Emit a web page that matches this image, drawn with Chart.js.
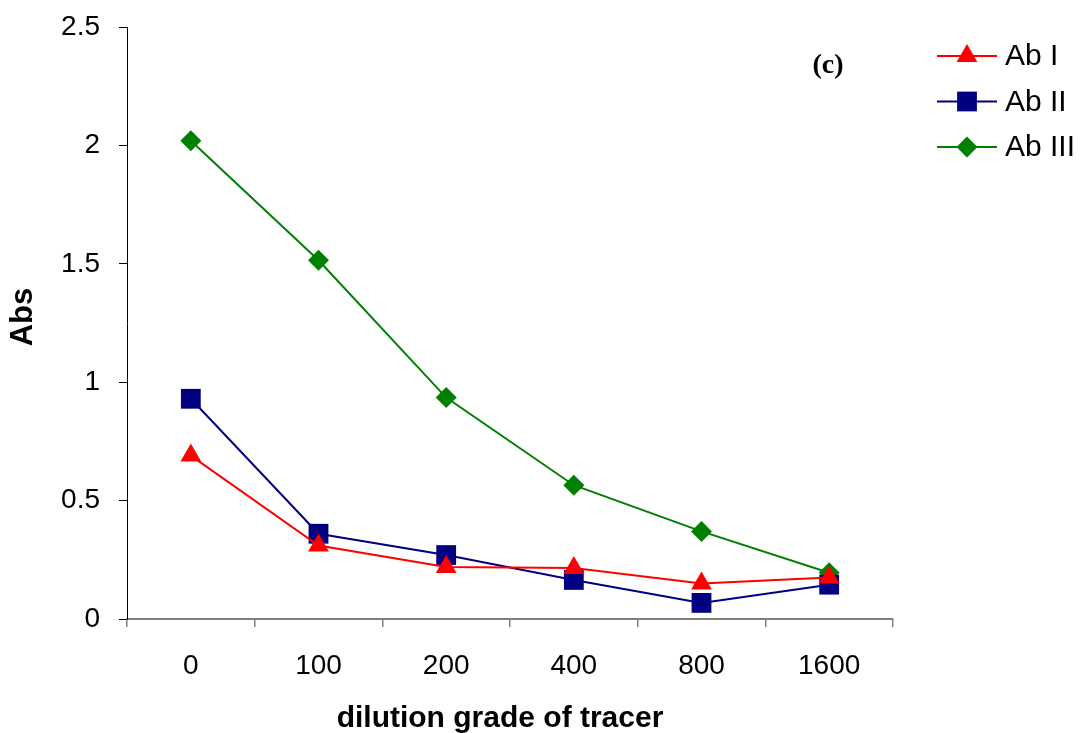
<!DOCTYPE html>
<html>
<head>
<meta charset="utf-8">
<script src="https://cdn.jsdelivr.net/npm/chart.js@4/dist/chart.umd.min.js"></script>
<style>
  html, body { margin: 0; padding: 0; background: #fff; }
  #wrap { width: 1080px; height: 733px; }
</style>
</head>
<body>
<div id="wrap"><canvas id="absChart" width="1080" height="733"></canvas></div>
<script>
// dilution grades on the x axis
var categories = ['0', '100', '200', '400', '800', '1600'];
// absorbance
var abI = [0.69, 0.31, 0.22, 0.215, 0.15, 0.175];
var abII = [0.93, 0.36, 0.27, 0.165, 0.068, 0.145];
var abIII = [2.02, 1.515, 0.935, 0.565, 0.37, 0.195];
var seriesNames = ['Ab I', 'Ab II', 'Ab III'];
var yTicks = [0, 0.5, 1, 1.5, 2, 2.5];

var colors = ['#FF0000', '#000080', '#008000'];
var styles = ['triangle', 'rect', 'rectRot'];
var radii = [12, 14, 10.5];
var sans = 'Arial, "Liberation Sans", sans-serif';

function drawMarker(ctx, style, x, y, r, color) {
    ctx.save();
    ctx.fillStyle = color;
    ctx.beginPath();
    if (style === 'triangle') {
        ctx.moveTo(x, y - r);
        ctx.lineTo(x + r * Math.sin(2 * Math.PI / 3), y - r * Math.cos(2 * Math.PI / 3));
        ctx.lineTo(x - r * Math.sin(2 * Math.PI / 3), y - r * Math.cos(2 * Math.PI / 3));
    } else if (style === 'rect') {
        var s = r * Math.SQRT1_2;
        ctx.rect(x - s, y - s, 2 * s, 2 * s);
    } else {
        ctx.moveTo(x, y - r);
        ctx.lineTo(x + r, y);
        ctx.lineTo(x, y + r);
        ctx.lineTo(x - r, y);
    }
    ctx.closePath();
    ctx.fill();
    ctx.restore();
}

// axis titles, legend at the right and the "(c)" panel tag
var extras = {
    id: 'extras',
    afterDraw: function(chart) {
        var ctx = chart.ctx;
        ctx.save();
        ctx.fillStyle = '#000';
        ctx.textAlign = 'center';
        ctx.textBaseline = 'middle';

        ctx.font = 'bold 30px ' + sans;
        ctx.fillText('dilution grade of tracer', 500, 719);
        ctx.save();
        ctx.translate(23, 317);
        ctx.rotate(-Math.PI / 2);
        ctx.font = 'bold 31px ' + sans;
        ctx.fillText('Abs', 0, 0);
        ctx.restore();

        ctx.font = 'bold 28px "Times New Roman", "Liberation Serif", serif';
        ctx.fillText('(c)', 828, 66);

        ctx.font = '30px ' + sans;
        ctx.textAlign = 'left';
        for (var i = 0; i < seriesNames.length; i++) {
            var y = 56 + i * 45.5;
            ctx.strokeStyle = colors[i];
            ctx.lineWidth = 2;
            ctx.beginPath();
            ctx.moveTo(937, y);
            ctx.lineTo(997, y);
            ctx.stroke();
            drawMarker(ctx, styles[i], 967, y, radii[i], colors[i]);
            ctx.fillStyle = '#000';
            ctx.fillText(seriesNames[i], 1005, y + 1);
        }
        ctx.restore();
    }
};

var allSeries = [abI, abII, abIII];
var datasets = allSeries.map(function(vals, i) {
    return {
        label: seriesNames[i],
        data: vals,
        borderColor: colors[i],
        backgroundColor: colors[i],
        borderWidth: 2,
        pointStyle: styles[i],
        pointRadius: radii[i],
        pointHoverRadius: radii[i],
        pointBorderWidth: 0,
        tension: 0,
        clip: false
    };
});

new Chart(document.getElementById('absChart').getContext('2d'), {
    type: 'line',
    data: { labels: categories, datasets: datasets },
    options: {
        responsive: false,
        animation: false,
        layout: { padding: { left: 0, right: 187, top: 27, bottom: 0 } },
        plugins: { legend: { display: false }, tooltip: { enabled: false } },
        scales: {
            x: {
                offset: true,
                grid: {
                    offset: true,
                    drawOnChartArea: false,
                    drawTicks: true,
                    tickLength: 8,
                    color: '#808080',
                    lineWidth: 1.5
                },
                border: { color: '#808080', width: 2 },
                ticks: { color: '#000', font: { family: sans, size: 28 }, padding: 22, maxRotation: 0 },
                afterFit: function(scale) {
                    scale.height = 114;
                    scale.paddingLeft = 0;
                    scale.paddingRight = 0;
                }
            },
            y: {
                min: 0,
                max: 2.5,
                afterBuildTicks: function(scale) {
                    scale.ticks = yTicks.map(function(v) { return { value: v }; });
                },
                grid: {
                    drawOnChartArea: false,
                    drawTicks: true,
                    tickLength: 8,
                    color: '#000'
                },
                border: { color: '#000', width: 1 },
                ticks: {
                    color: '#000',
                    font: { family: sans, size: 28 },
                    padding: 19,
                    callback: function(v) { return String(v); }
                },
                afterFit: function(scale) {
                    scale.width = 127;
                    scale.paddingTop = 0;
                    scale.paddingBottom = 0;
                }
            }
        }
    },
    plugins: [extras]
});
</script>
</body>
</html>
